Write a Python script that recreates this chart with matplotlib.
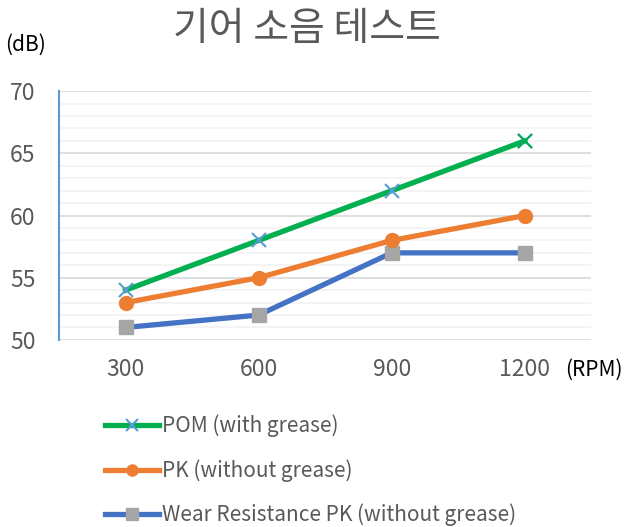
import matplotlib.pyplot as plt
from matplotlib.ticker import MultipleLocator

plt.rcParams['font.family'] = ['Noto Sans CJK KR', 'DejaVu Sans']

rpm = ["300", "600", "900", "1200"]
pom = [54, 58, 62, 66]
pk = [53, 55, 58, 60]
wear_pk = [51, 52, 57, 57]

text_gray = "#595959"

fig = plt.figure(figsize=(6.24, 5.27), dpi=100)
ax = fig.add_axes([0.0946, 0.355, 0.853, 0.472])

x = [i + 0.5 for i in range(len(rpm))]

ax.plot(x, pom, color="#00B050", lw=3.8, marker="x", ms=10, mew=1.5,
        mec="#5B9BD5", label="POM (with grease)", zorder=5)
ax.plot(x[-1:], pom[-1:], ls="none", marker="x", ms=10, mew=1.5, mec="#00B050", zorder=6)
ax.plot(x, pk, color="#ED7D31", lw=3.8, marker="o", ms=10,
        mfc="#ED7D31", mec="#ED7D31", label="PK (without grease)", zorder=4)
ax.plot(x, wear_pk, color="#4472C4", lw=3.8, marker="s", ms=10,
        mfc="#A5A5A5", mec="#A5A5A5", label="Wear Resistance PK (without grease)", zorder=3)

ax.set_xlim(0, 4)
ax.set_ylim(50, 70)
ax.set_xticks(x)
ax.set_xticklabels(rpm)
ax.yaxis.set_major_locator(MultipleLocator(5))
ax.yaxis.set_minor_locator(MultipleLocator(1))
ax.grid(which="major", axis="y", color="#D9D9D9", lw=1.2)
ax.grid(which="minor", axis="y", color="#F2F2F2", lw=1.2)
ax.set_axisbelow(True)

for s in ["top", "right", "bottom"]:
    ax.spines[s].set_visible(False)
ax.spines["left"].set_color("#5B9BD5")
ax.spines["left"].set_linewidth(1.5)

ax.tick_params(axis="both", which="both", length=0, labelsize=16.5, colors=text_gray)
ax.tick_params(axis="y", pad=17)
ax.tick_params(axis="x", pad=13)

fig.text(0.492, 0.945, "기어 소음 테스트", ha="center", va="center", fontsize=28, color=text_gray)
fig.text(0.008, 0.915, "(dB)", ha="left", va="center", fontsize=15, color="black")
fig.text(0.905, 0.298, "(RPM)", ha="left", va="center", fontsize=15, color="black")

fig.legend(loc="upper left", bbox_to_anchor=(0.155, 0.229), frameon=False,
           fontsize=15, labelcolor=text_gray, handlelength=2.6, handletextpad=0.15,
           labelspacing=1.05, borderaxespad=0, markerscale=0.8)

fig.savefig("out.png", dpi=100)
